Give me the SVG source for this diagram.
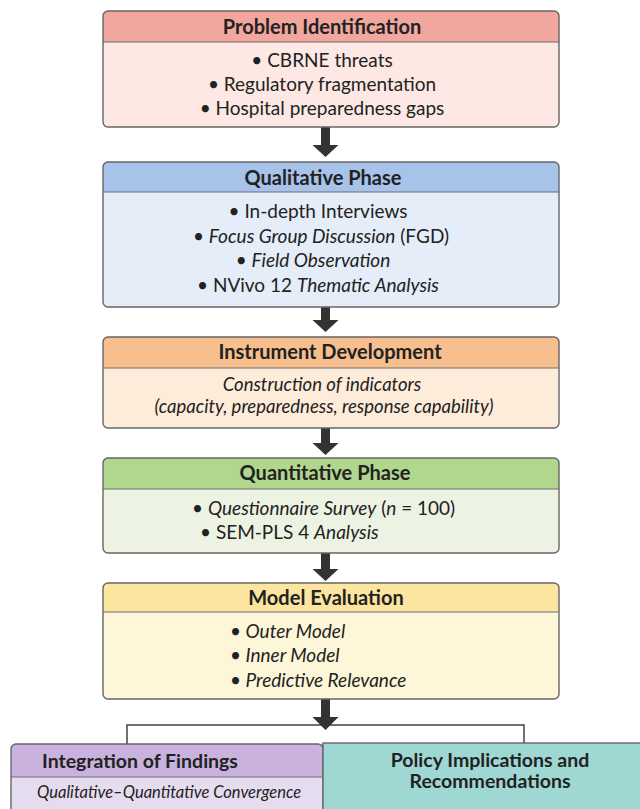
<svg xmlns="http://www.w3.org/2000/svg" width="640" height="809" viewBox="0 0 640 809">
<style>
  .frame{fill:none;stroke:#666;stroke-width:1.4}
  .sep{stroke:#6f6f6f;stroke-width:1}
  .hd{font-family:Lato,"Liberation Sans",sans-serif;font-weight:bold;font-size:20px;fill:#222;text-anchor:middle}
  .tx{font-family:Lato,"Liberation Sans",sans-serif;font-size:19px;fill:#222;text-anchor:middle}
  .st{text-anchor:start}
  .it{font-style:italic}
  .up{font-style:normal}
  .arrow{fill:#333}
  .brk{fill:none;stroke:#444;stroke-width:1.5}
</style>
<rect width="640" height="809" fill="#ffffff"/>

<g id="connectors">
  <path class="arrow" d="M321,127 H330 V145 H338.5 L325.5,157 L312.5,145 H321 Z"/>
  <path class="arrow" d="M321,307 H330 V320 H338.5 L325.5,332 L312.5,320 H321 Z"/>
  <path class="arrow" d="M321,428 H330 V443 H338.5 L325.5,455 L312.5,443 H321 Z"/>
  <path class="arrow" d="M321,553 H330 V569 H338.5 L325.5,581 L312.5,569 H321 Z"/>
  <polyline class="brk" points="127,744 127,725 524,725 524,744"/>
  <path class="arrow" d="M321,699 H330 V717 H338.5 L325.5,730 L312.5,717 H321 Z"/>
</g>

<g id="problem">
  <rect x="103" y="11" width="456" height="116" rx="5" fill="#fde8e3"/>
  <path d="M103,42 V16 Q103,11 108,11 H554 Q559,11 559,16 V42 Z" fill="#f1a69e"/>
  <line class="sep" x1="103" y1="42" x2="559" y2="42"/>
  <rect class="frame" x="103" y="11" width="456" height="116" rx="5"/>
  <text class="hd" x="322" y="34">Problem Identification</text>
  <text class="tx" x="322" y="67">• CBRNE threats</text>
  <text class="tx" x="322" y="91">• Regulatory fragmentation</text>
  <text class="tx" x="322" y="115">• Hospital preparedness gaps</text>
</g>

<g id="qualitative">
  <rect x="103" y="162" width="456" height="145" rx="5" fill="#e4edf8"/>
  <path d="M103,192 V167 Q103,162 108,162 H554 Q559,162 559,167 V192 Z" fill="#a7c3e9"/>
  <line class="sep" x1="103" y1="192" x2="559" y2="192"/>
  <rect class="frame" x="103" y="162" width="456" height="145" rx="5"/>
  <text class="hd" x="323" y="185">Qualitative Phase</text>
  <text class="tx" x="318" y="218">• In-depth Interviews</text>
  <text class="tx" x="321" y="243">• <tspan class="it">Focus Group Discussion</tspan> (FGD)</text>
  <text class="tx" x="313" y="267">• <tspan class="it">Field Observation</tspan></text>
  <text class="tx" x="318" y="292">• NVivo 12 <tspan class="it">Thematic Analysis</tspan></text>
</g>

<g id="instrument">
  <rect x="103" y="337" width="456" height="91" rx="5" fill="#fdecd9"/>
  <path d="M103,368 V342 Q103,337 108,337 H554 Q559,337 559,342 V368 Z" fill="#f7bf8e"/>
  <line class="sep" x1="103" y1="368" x2="559" y2="368"/>
  <rect class="frame" x="103" y="337" width="456" height="91" rx="5"/>
  <text class="hd" x="330" y="359">Instrument Development</text>
  <text class="tx it" x="322" y="391" style="font-size:18.5px">Construction of indicators</text>
  <text class="tx it" x="324" y="413" style="font-size:18.5px">(capacity, preparedness, response capability)</text>
</g>

<g id="quantitative">
  <rect x="103" y="458" width="456" height="95" rx="5" fill="#edf3e3"/>
  <path d="M103,489 V463 Q103,458 108,458 H554 Q559,458 559,463 V489 Z" fill="#b1d68d"/>
  <line class="sep" x1="103" y1="489" x2="559" y2="489"/>
  <rect class="frame" x="103" y="458" width="456" height="95" rx="5"/>
  <text class="hd" x="325" y="480">Quantitative Phase</text>
  <text class="tx st" x="192" y="515">• <tspan class="it">Questionnaire Survey</tspan> (<tspan class="it">n</tspan> = 100)</text>
  <text class="tx st" x="200" y="539">• SEM-PLS 4 <tspan class="it">Analysis</tspan></text>
</g>

<g id="model-evaluation">
  <rect x="103" y="583" width="456" height="116" rx="5" fill="#fdf6d8"/>
  <path d="M103,612 V588 Q103,583 108,583 H554 Q559,583 559,588 V612 Z" fill="#fce69f"/>
  <line class="sep" x1="103" y1="612" x2="559" y2="612"/>
  <rect class="frame" x="103" y="583" width="456" height="116" rx="5"/>
  <text class="hd" x="326" y="605">Model Evaluation</text>
  <text class="tx it st" x="230" y="638"><tspan class="up">•</tspan> Outer Model</text>
  <text class="tx it st" x="230" y="662"><tspan class="up">•</tspan> Inner Model</text>
  <text class="tx it st" x="230" y="687"><tspan class="up">•</tspan> Predictive Relevance</text>
</g>

<g id="integration">
  <rect x="11" y="744" width="312" height="80" rx="5" fill="#e6dcef"/>
  <path d="M11,777 V749 Q11,744 16,744 H323 V777 Z" fill="#c9b2dd"/>
  <line class="sep" x1="11" y1="777" x2="323" y2="777"/>
  <rect class="frame" x="11" y="744" width="312" height="80" rx="5"/>
  <text class="hd st" x="42" y="768" style="font-size:19.5px">Integration of Findings</text>
  <text class="tx it st" x="37" y="798" style="font-size:16.5px">Qualitative–Quantitative Convergence</text>
</g>

<g id="policy">
  <rect x="323" y="743" width="330" height="80" fill="#9fd8d3" stroke="#666" stroke-width="1.4"/>
  <text class="hd" x="490" y="767" style="font-size:19.5px">Policy Implications and</text>
  <text class="hd" x="490" y="788" style="font-size:19.5px">Recommendations</text>
</g>
</svg>
